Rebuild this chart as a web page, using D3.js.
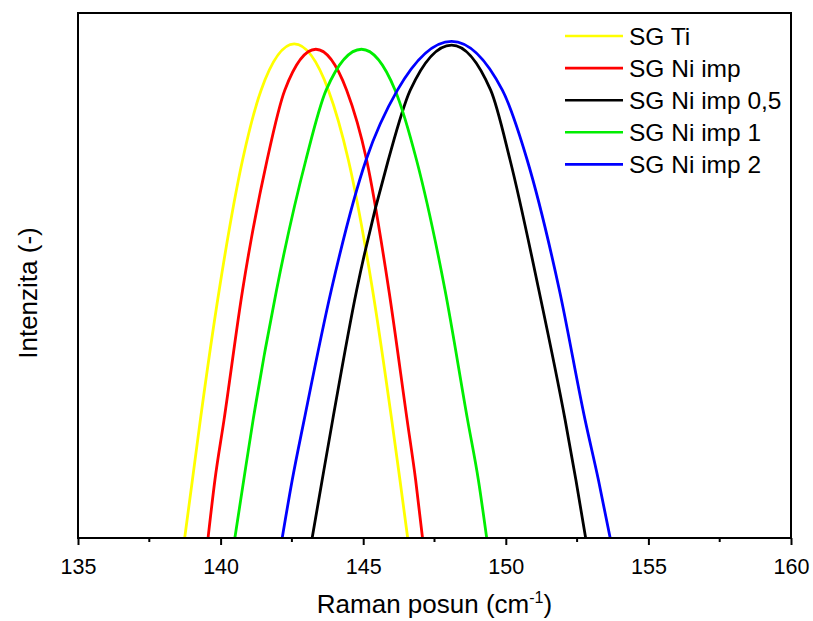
<!DOCTYPE html>
<html>
<head>
<meta charset="utf-8">
<script src="https://cdn.jsdelivr.net/npm/d3@7"></script>
<style>
  body { margin: 0; background: #ffffff; }
  #grafica { width: 813px; height: 621px; }
  text { font-family: 'Liberation Sans', Arial, sans-serif; fill: #000000; }
</style>
</head>
<body>
<div id="grafica"></div>
<script>
// Datos (intensidad normalizada 0-1)
nombres = ['SG Ti', 'SG Ni imp', 'SG Ni imp 0,5', 'SG Ni imp 1', 'SG Ni imp 2']
colores = ['#ffff00', '#ff0000', '#000000', '#00ee00', '#0000ff']

x_sg_ti = [138.74, 139.01, 139.29, 139.95, 140.77, 141.42, 142.58, 143.78, 144.48, 145.33, 146.0, 146.29, 146.56]
y_sg_ti = [0, 0.11, 0.225, 0.472, 0.72, 0.853, 0.941, 0.853, 0.72, 0.472, 0.225, 0.11, 0]

x_ni_imp = [139.56, 139.8, 140.12, 140.77, 141.63, 142.25, 143.34, 144.42, 145.12, 145.9, 146.54, 146.84, 147.08]
y_ni_imp = [0, 0.11, 0.225, 0.472, 0.72, 0.853, 0.931, 0.853, 0.72, 0.472, 0.225, 0.11, 0]

x_ni_imp_05 = [143.21, 143.56, 143.93, 144.77, 145.88, 146.65, 148.1, 149.47, 150.15, 151.16, 152.08, 152.46, 152.8]
y_ni_imp_05 = [0, 0.11, 0.225, 0.472, 0.72, 0.853, 0.939, 0.853, 0.72, 0.472, 0.225, 0.11, 0]

x_ni_imp_1 = [140.5, 140.81, 141.14, 141.96, 142.99, 143.7, 144.94, 146.12, 146.87, 147.87, 148.66, 149.04, 149.33]
y_ni_imp_1 = [0, 0.11, 0.225, 0.472, 0.72, 0.853, 0.931, 0.853, 0.72, 0.472, 0.225, 0.11, 0]

x_ni_imp_2 = [142.16, 142.51, 142.93, 143.88, 145.1, 146.2, 148.1, 149.88, 150.75, 151.88, 152.78, 153.25, 153.66]
y_ni_imp_2 = [0, 0.11, 0.225, 0.472, 0.72, 0.853, 0.946, 0.853, 0.72, 0.472, 0.225, 0.11, 0]

ticks_x = [135, 140, 145, 150, 155, 160]
ticks_menores = [137.5, 142.5, 147.5, 152.5, 157.5]

series_x = [x_sg_ti, x_ni_imp, x_ni_imp_05, x_ni_imp_1, x_ni_imp_2]
series_y = [y_sg_ti, y_ni_imp, y_ni_imp_05, y_ni_imp_1, y_ni_imp_2]

ancho_total = 813
alto_total  = 621
margin = { left: 78, right: 22, top: 13, bottom: 83 }

ancho = ancho_total - margin.left - margin.right
alto  = alto_total - margin.top - margin.bottom

svg = d3
        .select('#grafica')
        .append('svg')
        .attr('width', ancho_total)
        .attr('height', alto_total)

g = svg
      .append('g')
      .attr('transform', 'translate(' + margin.left + ',' + margin.top + ')')

x = d3.scaleLinear().domain([135, 160]).range([0, ancho])
y = d3.scaleLinear().domain([0, 1]).range([alto, 0])

// curvas (monotona en x: el pico queda redondo, sin rebotes)
linea = d3.line()
          .x((d) => x(d[0]))
          .y((d) => y(d[1]))
          .curve(d3.curveMonotoneX)

series_x.forEach((xs, i) => {
  puntos = xs.map((v, j) => [v, series_y[i][j]])
  g.append('path')
    .datum(puntos)
    .attr('d', linea)
    .attr('fill', 'none')
    .attr('stroke', colores[i])
    .attr('stroke-width', 2.8)
})

// marco
g.append('rect')
  .attr('x', 0)
  .attr('y', 0)
  .attr('width', ancho)
  .attr('height', alto)
  .attr('fill', 'none')
  .attr('stroke', 'black')
  .attr('stroke-width', 2)

// eje x
xAxisCall = d3.axisBottom(x)
              .tickValues(ticks_x)
              .tickSize(7)
              .tickPadding(14)
              .tickFormat(d3.format('d'))
xGroup = g.append('g')
          .attr('transform', `translate(0, ${alto})`)
          .call(xAxisCall)
xGroup.select('.domain').remove()
xGroup.selectAll('line').attr('stroke-width', 2)
xGroup.selectAll('text')
        .attr('font-size', '21.5px')
        .attr('font-family', "'Liberation Sans', Arial, sans-serif")

g.append('g')
  .selectAll('line')
  .data(ticks_menores)
  .enter()
  .append('line')
    .attr('x1', (d) => x(d))
    .attr('x2', (d) => x(d))
    .attr('y1', alto)
    .attr('y2', alto + 4)
    .attr('stroke', 'black')
    .attr('stroke-width', 2)

// títulos
titulo_x = svg.append('text')
              .attr('x', margin.left + ancho / 2)
              .attr('y', 613)
              .attr('text-anchor', 'middle')
              .attr('font-size', '26px')
titulo_x.append('tspan').text('Raman posun (cm')
titulo_x.append('tspan').text('-1').attr('font-size', '16px').attr('dy', -10)
titulo_x.append('tspan').text(')').attr('dy', 10)

svg.append('text')
    .attr('transform', 'translate(37, 293) rotate(-90)')
    .attr('text-anchor', 'middle')
    .attr('font-size', '26px')
    .text('Intenzita (-)')

// leyenda
leyenda = svg.append('g')
leyenda.selectAll('line')
        .data(nombres)
        .enter()
        .append('line')
          .attr('x1', 565)
          .attr('x2', 623)
          .attr('y1', (d, i) => 36 + i * 32.1)
          .attr('y2', (d, i) => 36 + i * 32.1)
          .attr('stroke', (d, i) => colores[i])
          .attr('stroke-width', 2.6)
leyenda.selectAll('text')
        .data(nombres)
        .enter()
        .append('text')
          .attr('x', 629)
          .attr('y', (d, i) => 45 + i * 32.1)
          .attr('font-size', '24.5px')
          .text((d) => d)
</script>
</body>
</html>
